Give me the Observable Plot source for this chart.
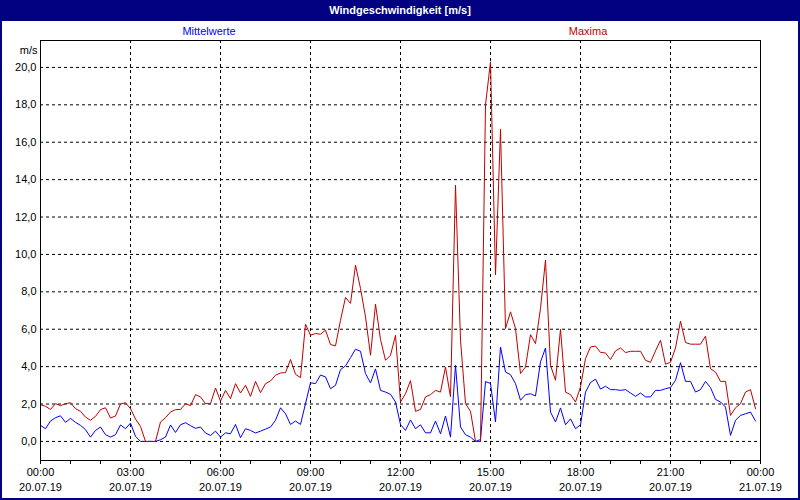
<!DOCTYPE html>
<html>
<head>
<meta charset="utf-8">
<script src="https://cdn.jsdelivr.net/npm/d3@7"></script>
<script src="https://cdn.jsdelivr.net/npm/@observablehq/plot@0.6"></script>
<style>
  html, body { margin: 0; padding: 0; background: #fff; }
  #wrap { position: relative; width: 800px; height: 500px; background: #fff; overflow: hidden; font-family: "Liberation Sans", Arial, sans-serif; }
  #title { position: absolute; left: 0; top: 0; width: 800px; height: 21px; background: #000080; color: #fff; font-weight: bold; font-size: 11px; line-height: 20px; text-align: center; }
  .leg { position: absolute; top: 24px; font-size: 11px; transform: translateX(-50%); white-space: nowrap; line-height: 14px; }
  #chart { position: absolute; left: 0; top: 21px; }
  #border { position: absolute; left: 0; top: 0; width: 800px; height: 500px; box-sizing: border-box; border: 2px solid #000080; pointer-events: none; }
</style>
</head>
<body>
<div id="wrap">
  <div id="title">Windgeschwindigkeit [m/s]</div>
  <div class="leg" style="left:209px;color:#0000ff">Mittelwerte</div>
  <div class="leg" style="left:588px;color:#c00000">Maxima</div>
  <div id="chart"></div>
  <div id="border"></div>
</div>
<script>
// 10-minute readings, 20.07.19 00:00 to 23:50 (minutes since midnight)
const minutes = d3.range(144).map(i => i * 10);

const mittelwerte = [
  0.86,0.68,1.09,1.27,1.37,1.02,1.23,1.02,0.86,0.63,0.23,0.59,0.77,0.36,0.23,0.36,0.88,0.68,0.98,0.27,
  0,0,0,0,0.09,0.23,0.88,0.48,0.89,1.0,0.84,0.7,0.77,0.45,0.32,0.55,0.23,0.46,
  0.41,0.91,0.2,0.68,0.59,0.45,0.55,0.66,0.77,1.13,1.80,1.48,0.91,1.09,0.91,2.02,3.14,3.09,3.55,3.45,2.82,3.0,
  3.84,4.04,4.48,4.93,4.82,3.63,3.13,3.88,2.73,2.64,2.52,2.11,0.9,0.59,1.15,
  0.68,0.89,0.46,0.46,1.09,0.41,1.36,0.23,4.07,0.77,0.36,0.23,0,0.1,3.2,3.1,1.04,5.05,3.71,3.57,3.09,2.2,2.5,2.55,2.43,
  4.25,5.0,1.57,1.04,1.79,0.89,1.21,0.68,0.89,2.64,3.15,3.33,2.8,
  2.95,2.77,2.77,2.73,2.77,2.59,2.41,2.59,2.38,2.38,2.73,2.73,2.82,2.88,3.27,4.21,3.21,3.21,2.64,2.77,3.21,2.88,2.25,2.11,1.84,
  0.32,1.13,1.39,1.48,1.57,1.09
];

const maxima = [
  1.96,1.88,1.71,2.02,1.91,2.02,2.07,1.75,1.61,1.30,1.13,1.34,1.70,1.80,1.25,1.36,2.0,2.07,1.75,1.2,
  0.8,0,0,0,1.04,1.27,1.57,1.70,1.71,2.02,1.91,2.5,2.38,2.02,2.02,2.86,2.16,2.73,
  2.29,3.09,2.59,3.0,2.41,3.21,2.61,3.09,3.23,3.54,3.66,3.68,4.38,3.59,3.41,6.27,5.68,5.77,5.73,5.95,5.18,5.11,
  6.48,7.70,7.38,9.43,8.18,6.66,4.61,7.34,5.45,4.34,4.61,5.68,2.11,2.55,3.25,
  1.61,1.71,2.38,2.5,2.73,2.64,3.98,2.38,13.7,5.41,2.02,1.61,0,0,18.0,20.3,8.9,16.7,6.04,6.93,6.04,3.63,3.98,5.71,5.23,
  7.11,9.7,4.07,3.27,6.0,2.64,2.5,2.11,2.91,4.43,5.05,5.1,4.76,
  4.73,4.38,4.84,5.0,4.75,4.82,4.82,4.82,4.34,4.23,4.84,5.41,4.13,4.23,5.0,6.43,5.29,5.2,5.2,5.2,5.63,3.89,3.71,3.21,3.21,
  1.39,1.80,2.02,2.64,2.77,1.75
];

// tick values and labels
const yTicks = [0,2,4,6,8,10,12,14,16,18,20];
const yTickLabels = ["0,0","2,0","4,0","6,0","8,0","10,0","12,0","14,0","16,0","18,0","20,0"];
const hourTicks = d3.range(0, 1441, 60);
const labelTicks = [0,180,360,540,720,900,1080,1260,1440];
const timeLabels = ["00:00","03:00","06:00","09:00","12:00","15:00","18:00","21:00","00:00"];
const dateLabels = ["20.07.19","20.07.19","20.07.19","20.07.19","20.07.19","20.07.19","20.07.19","20.07.19","21.07.19"];
const gridXTicks = [180,360,540,720,900,1080,1260];

const data = minutes.map((t, i) => ({t, mean: mittelwerte[i], max: maxima[i]}));

const dash = {stroke: "#000", strokeOpacity: 1, strokeWidth: 1, strokeDasharray: "3,3"};

const chart = Plot.plot({
  width: 800,
  height: 477,
  marginTop: 19,
  marginBottom: 38,
  marginLeft: 40,
  marginRight: 40,
  style: {background: "transparent", fontFamily: "'Liberation Sans', Arial, sans-serif", fontSize: "11px", color: "#000"},
  x: {domain: [0, 1440]},
  y: {domain: [-1.02, 21.44]},
  marks: [
    Plot.gridY(yTicks, dash),
    Plot.gridX(gridXTicks, dash),
    Plot.line(data, {x: "t", y: "mean", stroke: "#0000ff", strokeWidth: 1}),
    Plot.line(data, {x: "t", y: "max", stroke: "#c00000", strokeWidth: 1}),
    Plot.frame({stroke: "#000", strokeWidth: 1}),
    Plot.axisY(yTicks, {tickSize: 0, tickPadding: 4, tickFormat: d => yTickLabels[yTicks.indexOf(d)], label: null}),
    Plot.axisX(hourTicks, {tickSize: 4, tickFormat: () => "", label: null}),
    Plot.axisX(labelTicks, {tickSize: 0, tickPadding: 8, tickFormat: d => timeLabels[labelTicks.indexOf(d)], label: null}),
    Plot.axisX(labelTicks, {tickSize: 0, tickPadding: 23, tickFormat: d => dateLabels[labelTicks.indexOf(d)], label: null}),
    Plot.text(["m/s"], {frameAnchor: "top-left", textAnchor: "end", dx: -3, dy: 6})
  ]
});
document.getElementById("chart").appendChild(chart);
</script>
</body>
</html>
